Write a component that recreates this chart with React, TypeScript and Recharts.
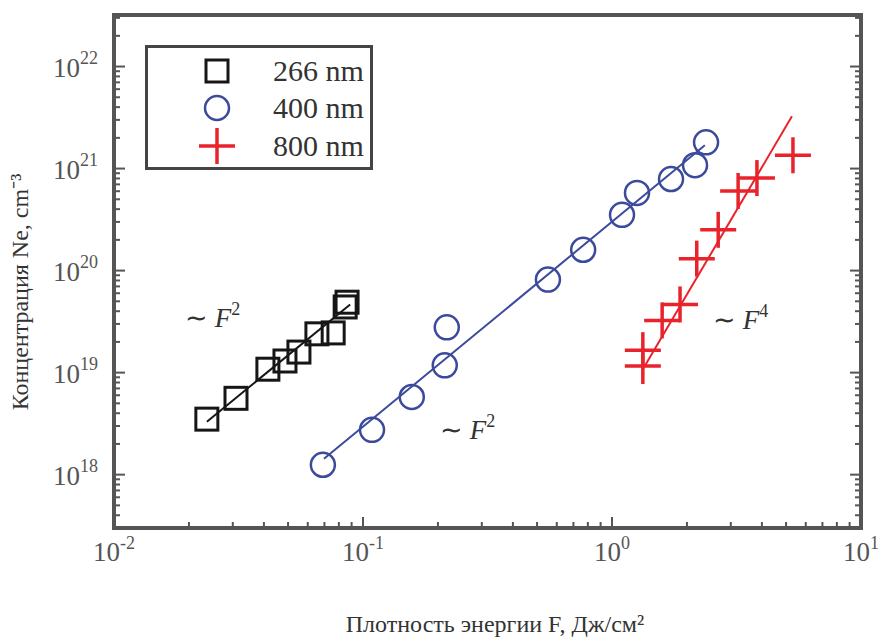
import React from "react";
import { ScatterChart, Scatter, XAxis, YAxis, ReferenceArea, ReferenceDot, Legend } from "recharts";

// measured points, F in J/cm^2, Ne in cm^-3
const f266 = [0.0236, 0.0309, 0.0415, 0.0486, 0.0553, 0.0653, 0.0759, 0.0848, 0.0863];
const n266 = [3.5e18, 5.6e18, 1.08e19, 1.3e19, 1.59e19, 2.4e19, 2.45e19, 4.4e19, 4.9e19];
const f400 = [0.069, 0.1087, 0.157, 0.213, 0.217, 0.553, 0.766, 1.097, 1.26, 1.726, 2.155, 2.386];
const n400 = [1.25e18, 2.75e18, 5.77e18, 1.18e19, 2.78e19, 8.17e19, 1.6e20, 3.52e20, 5.77e20, 7.9e20, 1.08e21, 1.81e21];
const f800 = [1.33, 1.33, 1.59, 1.876, 2.19, 2.67, 3.21, 3.82, 5.33];
const n800 = [1.66e19, 1.16e19, 3.25e19, 4.66e19, 1.31e20, 2.51e20, 6.03e20, 8.07e20, 1.35e21];

// power-law fits, end points
const fit266F = [0.0236, 0.0888];
const fit266N = [3.3e18, 4.66e19];
const fit400F = [0.0697, 2.36];
const fit400N = [1.43e18, 1.69e21];
const fit800F = [1.33, 5.28];
const fit800N = [1.08e19, 3.25e21];

const seriesNames = ["266 nm", "400 nm", "800 nm"];

// annotations: [F, Ne, power]
const annotations: [number, number, string][] = [
  [0.01927, 2.78e19, "2"],
  [0.2037, 2.24e18, "2"],
  [2.545, 2.66e19, "4"],
];

const X_DOMAIN = [0.01, 10];
const Y_DOMAIN = [3e17, 3.2e22];

const decades = (from: number, to: number, lo: number, hi: number) => {
  const out: number[] = [];
  for (let e = from; e <= to; e++) {
    for (let m = 1; m <= 9; m++) {
      const v = m * Math.pow(10, e);
      if (v >= lo * 0.999 && v <= hi * 1.001) out.push(Number(v.toPrecision(3)));
    }
  }
  return out;
};
const xTicks = decades(-2, 1, X_DOMAIN[0], X_DOMAIN[1]);
const yTicks = decades(17, 22, 3.5e17, Y_DOMAIN[1]);

const zip = (xs: number[], ys: number[]) => xs.map((x, i) => ({ x, y: ys[i] }));

const FONT = "'Liberation Serif', 'Times New Roman', serif";
const FRAME = "#555";
const BLACK = "#161616";
const BLUE = "#3c4a9c";
const RED = "#e8232b";

const isMajor = (v: number) => {
  const l = Math.log10(v);
  return Math.abs(l - Math.round(l)) < 1e-6;
};

const tickLen = (v: number) => (isMajor(v) ? 11 : 6);

const BottomTick = (props: any) => {
  const { x, y, payload } = props;
  const v = payload.value;
  return (
    <g>
      <line x1={x} x2={x} y1={y} y2={y - tickLen(v)} stroke={FRAME} strokeWidth={2} />
      {isMajor(v) && (
        <text x={x} y={y + 33} textAnchor="middle" style={{ fontFamily: FONT }} fontSize={27} fill="#555">
          10<tspan dy={-12} fontSize={18}>{Math.round(Math.log10(v))}</tspan>
        </text>
      )}
    </g>
  );
};

const TopTick = (props: any) => {
  const { x, y, payload } = props;
  return <line x1={x} x2={x} y1={y} y2={y + tickLen(payload.value)} stroke={FRAME} strokeWidth={2} />;
};

const LeftTick = (props: any) => {
  const { x, y, payload } = props;
  const v = payload.value;
  return (
    <g>
      <line x1={x} x2={x + tickLen(v)} y1={y} y2={y} stroke={FRAME} strokeWidth={2} />
      {isMajor(v) && (
        <text x={x - 16} y={y + 10} textAnchor="end" style={{ fontFamily: FONT }} fontSize={27} fill="#555">
          10<tspan dy={-13} fontSize={18}>{Math.round(Math.log10(v))}</tspan>
        </text>
      )}
    </g>
  );
};

const RightTick = (props: any) => {
  const { x, y, payload } = props;
  return <line x1={x} x2={x - tickLen(payload.value)} y1={y} y2={y} stroke={FRAME} strokeWidth={2} />;
};

const SquareMark = ({ cx, cy }: any) => (
  <rect x={cx - 11} y={cy - 11} width={22} height={22} fill="none" stroke={BLACK} strokeWidth={3} />
);
const CircleMark = ({ cx, cy }: any) => (
  <circle cx={cx} cy={cy} r={12} fill="none" stroke={BLUE} strokeWidth={2.5} />
);
const CrossMark = ({ cx, cy }: any) => (
  <g stroke={RED} strokeWidth={3.5}>
    <line x1={cx - 18} x2={cx + 18} y1={cy} y2={cy} />
    <line x1={cx} x2={cx} y1={cy - 18} y2={cy + 18} />
  </g>
);
const NoMark = () => <g />;

const Annot = ({ cx, cy, power }: any) => (
  <text x={cx} y={cy} style={{ fontFamily: FONT }} fontSize={27} fill="#333">
    ∼ <tspan fontStyle="italic">F</tspan>
    <tspan dy={-12} fontSize={18}>{power}</tspan>
  </text>
);

const LegendBox = () => {
  const marks = [SquareMark, CircleMark, CrossMark];
  const rows = [26, 63, 101];
  return (
    <svg width={228} height={125} style={{ display: "block" }}>
      <rect x={1.5} y={1.5} width={225} height={122} fill="#fff" stroke="#444" strokeWidth={3} />
      {seriesNames.map((name, i) => {
        const M = marks[i];
        return (
          <g key={name}>
            <M cx={72} cy={rows[i]} />
            <text x={128} y={rows[i] + 10} style={{ fontFamily: FONT }} fontSize={30} fill="#333">
              {name}
            </text>
          </g>
        );
      })}
    </svg>
  );
};

export default function App() {
  return (
    <div style={{ position: "absolute", left: 0, top: 0, background: "#fff", fontFamily: FONT }}>
      <ScatterChart width={881} height={643} margin={{ top: 14, right: 19, bottom: 114, left: 113 }}>
        <XAxis
          dataKey="x"
          type="number"
          scale="log"
          domain={X_DOMAIN}
          allowDataOverflow
          ticks={xTicks}
          interval={0}
          height={1}
          tickSize={0}
          tickMargin={0}
          axisLine={false}
          tick={<BottomTick />}
        />
        <XAxis
          xAxisId="top"
          orientation="top"
          type="number"
          scale="log"
          domain={X_DOMAIN}
          allowDataOverflow
          ticks={xTicks}
          interval={0}
          height={1}
          tickSize={0}
          tickMargin={0}
          axisLine={false}
          tick={<TopTick />}
        />
        <YAxis
          dataKey="y"
          type="number"
          scale="log"
          domain={Y_DOMAIN}
          allowDataOverflow
          ticks={yTicks}
          interval={0}
          width={1}
          tickSize={0}
          tickMargin={0}
          axisLine={false}
          tick={<LeftTick />}
        />
        <YAxis
          yAxisId="right"
          orientation="right"
          type="number"
          scale="log"
          domain={Y_DOMAIN}
          allowDataOverflow
          ticks={yTicks}
          interval={0}
          width={1}
          tickSize={0}
          tickMargin={0}
          axisLine={false}
          tick={<RightTick />}
        />
        <Legend
          layout="vertical"
          align="center"
          verticalAlign="middle"
          wrapperStyle={{ left: 145, top: 45, width: 228, height: 125 }}
          content={() => <LegendBox />}
        />
        <Scatter name={seriesNames[0]} data={zip(f266, n266)} shape={<SquareMark />} isAnimationActive={false} />
        <Scatter name={seriesNames[1]} data={zip(f400, n400)} shape={<CircleMark />} isAnimationActive={false} />
        <Scatter name={seriesNames[2]} data={zip(f800, n800)} shape={<CrossMark />} isAnimationActive={false} />
        <Scatter data={zip(fit266F, fit266N)} line={{ stroke: BLACK, strokeWidth: 2 }} shape={<NoMark />} legendType="none" isAnimationActive={false} />
        <Scatter data={zip(fit400F, fit400N)} line={{ stroke: BLUE, strokeWidth: 2 }} shape={<NoMark />} legendType="none" isAnimationActive={false} />
        <Scatter data={zip(fit800F, fit800N)} line={{ stroke: RED, strokeWidth: 2 }} shape={<NoMark />} legendType="none" isAnimationActive={false} />
        {annotations.map(([f, n, p], i) => (
          <ReferenceDot key={i} x={f} y={n} r={0} shape={(props: any) => <Annot {...props} power={p} />} />
        ))}
        <ReferenceArea
          x1={X_DOMAIN[0]}
          x2={X_DOMAIN[1]}
          y1={Y_DOMAIN[0]}
          y2={Y_DOMAIN[1]}
          fill="none"
          fillOpacity={0}
          stroke={FRAME}
          strokeWidth={4}
        />
        <text
          x={495}
          y={632}
          textAnchor="middle"
          style={{ fontFamily: FONT }}
          fontSize={24}
          fill="#333"
        >
          Плотность энергии F, Дж/см²
        </text>
        <text
          x={28}
          y={292}
          textAnchor="middle"
          transform="rotate(-90 28 292)"
          style={{ fontFamily: FONT }}
          fontSize={24}
          fill="#333"
        >
          Концентрация Ne, cm⁻³
        </text>
      </ScatterChart>
    </div>
  );
}
